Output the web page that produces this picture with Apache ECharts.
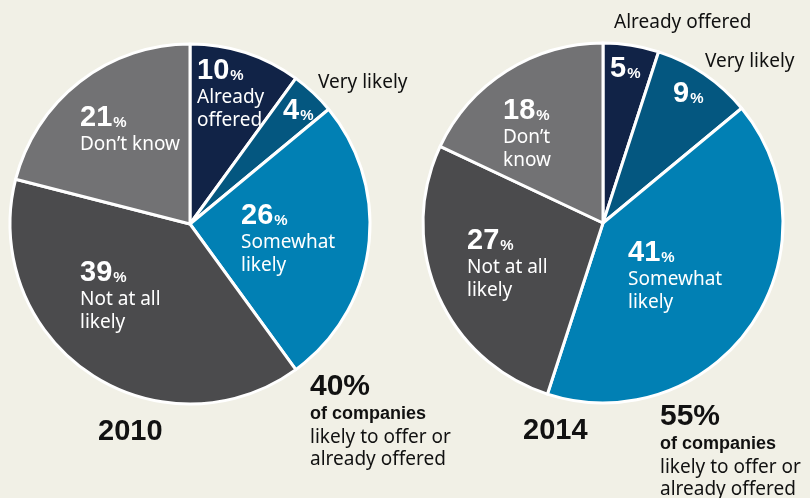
<!DOCTYPE html>
<html>
<head>
<meta charset="utf-8">
<script src="https://cdn.jsdelivr.net/npm/echarts@6/dist/echarts.min.js"></script>
<style>
  html, body { margin: 0; padding: 0; background: #f1f0e6; }
  #chart { width: 810px; height: 498px; }
</style>
</head>
<body>
<div id="chart"></div>
<script>
// Survey answers, clockwise from 12 o'clock
const categories = ['Already offered', 'Very likely', 'Somewhat likely', 'Not at all likely', 'Don’t know'];
const years = ['2010', '2014'];
const values2010 = [10, 4, 26, 39, 21];
const values2014 = [5, 9, 41, 27, 18];

// Text printed inside each slice under its percentage ('' = name shown outside)
const sliceText2010 = ['Already\noffered', '', 'Somewhat\nlikely', 'Not at all\nlikely', 'Don’t know'];
const sliceText2014 = ['', '', 'Somewhat\nlikely', 'Not at all\nlikely', 'Don’t\nknow'];

// Slices whose names sit outside the pie
const outsideNames2010 = [1];
const outsideNames2014 = [0, 1];

const sliceColors = ['#112347', '#045780', '#0180b4', '#4b4b4d', '#727274'];

const NUM_FONT = '"Liberation Sans", Arial, sans-serif';
const TXT_FONT = '"Noto Sans", "Open Sans", sans-serif';

// Top-left anchor of each in-slice label
const labelPos = [
  [[197, 56], [283, 96], [241, 201], [80, 258], [80, 103]],
  [[610, 54], [673, 79], [628, 238], [467, 226], [503, 96]]
];
// Outside name positions (left x, vertical middle)
const outsidePos = [
  { 1: [318, 83] },
  { 0: [614, 23], 1: [705, 62] }
];

const pieCenters = [[190, 224], [603, 223]];
const pieRadius = 180;

function sliceLabel(texts) {
  return function (p) {
    let s = '{num|' + p.value + '}{pct|%}';
    const t = texts[p.dataIndex];
    if (t) s += '\n' + t.split('\n').map(l => '{nm|' + l + '}').join('\n');
    return s;
  };
}

const rich = {
  num: { fontFamily: NUM_FONT, fontWeight: 'bold', fontSize: 29, lineHeight: 30, color: '#fff' },
  pct: { fontFamily: NUM_FONT, fontWeight: 'bold', fontSize: 15, color: '#fff', verticalAlign: 'bottom', padding: [0, 0, 3, 1] },
  nm: { fontFamily: TXT_FONT, fontSize: 19, lineHeight: 23, color: '#fff' }
};

function pieSeries(idx, values, texts) {
  return {
    type: 'pie',
    center: pieCenters[idx],
    radius: pieRadius,
    startAngle: 90,
    clockwise: true,
    animation: false,
    silent: true,
    itemStyle: { borderColor: '#ffffff', borderWidth: 3 },
    label: {
      show: true,
      position: 'inside',
      formatter: sliceLabel(texts),
      rich: rich
    },
    labelLine: { show: false },
    labelLayout: function (params) {
      const p = labelPos[idx][params.dataIndex];
      return { x: p[0], y: p[1], align: 'left', verticalAlign: 'top', hideOverlap: false };
    },
    data: values.map((v, i) => ({ name: categories[i], value: v, itemStyle: { color: sliceColors[i] } }))
  };
}

const graphics = [];
function addText(x, y, text, font) {
  graphics.push({
    type: 'text', x: x, y: y, silent: true,
    style: { text: text, fill: '#111', font: font, verticalAlign: 'middle', textVerticalAlign: 'middle' }
  });
}

// Names of the thin slices, printed outside
[outsideNames2010, outsideNames2014].forEach((list, i) => {
  list.forEach(k => addText(outsidePos[i][k][0], outsidePos[i][k][1], categories[k], '19px ' + TXT_FONT));
});

// Year captions and "likely or already offered" totals
const sumLikely = vals => vals[0] + vals[1] + vals[2];
const notes = [
  { year: [98, 432], total: [310, 387], lines: [414, 438, 460], vals: values2010 },
  { year: [523, 431], total: [660, 417], lines: [444, 468, 490], vals: values2014 }
];
notes.forEach((n, i) => {
  addText(n.year[0], n.year[1], years[i], 'bold 29px ' + NUM_FONT);
  addText(n.total[0], n.total[1], sumLikely(n.vals) + '%', 'bold 30px ' + NUM_FONT);
  addText(n.total[0], n.lines[0], 'of companies', 'bold 18px ' + NUM_FONT);
  addText(n.total[0], n.lines[1], 'likely to offer or', '19px ' + TXT_FONT);
  addText(n.total[0], n.lines[2], 'already offered', '19px ' + TXT_FONT);
});

const chart = echarts.init(document.getElementById('chart'), null, { renderer: 'canvas' });
chart.setOption({
  backgroundColor: '#f1f0e6',
  animation: false,
  series: [
    pieSeries(0, values2010, sliceText2010),
    pieSeries(1, values2014, sliceText2014)
  ],
  graphic: graphics
});
</script>
</body>
</html>
